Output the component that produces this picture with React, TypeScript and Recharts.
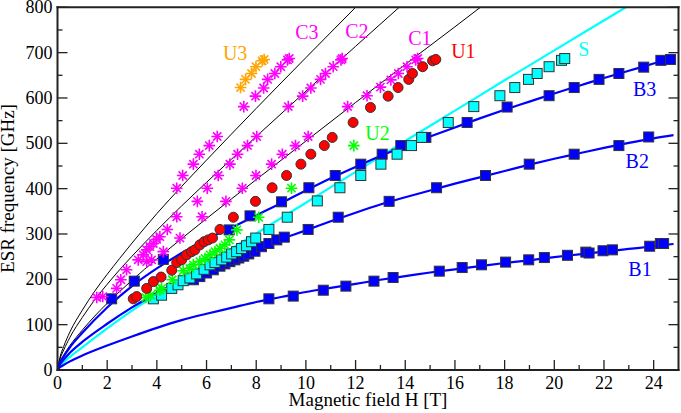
import React from "react";
import { ComposedChart, Line, Scatter, XAxis, YAxis, ReferenceDot } from "recharts";

// axis ticks
const xMajorTicks = [0, 2, 4, 6, 8, 10, 12, 14, 16, 18, 20, 22, 24];
const xMinorTicks = [1, 3, 5, 7, 9, 11, 13, 15, 17, 19, 21, 23];
const yMajorTicks = [0, 100, 200, 300, 400, 500, 600, 700, 800];
const yMinorTicks = [50, 150, 250, 350, 450, 550, 650, 750];

// theory curves, [H (T), f (GHz)]
const c3Curve = [[0, 0], [0.1, 28], [0.25, 52], [0.5, 84], [1, 132], [1.5, 174], [2, 211], [2.5, 246], [3, 280], [3.5, 313], [4, 345], [5, 405], [6, 463], [8, 577], [10, 689], [12, 800], [12.5, 828]];
const c2Curve = [[0, 0], [0.1, 24], [0.25, 44], [0.5, 72], [1, 116], [1.5, 155], [2, 189], [2.5, 221], [3, 251], [3.5, 280], [4, 308], [5, 362], [6, 414], [8, 515], [10, 615], [12, 714], [14, 812]];
const c1Curve = [[0, 0], [0.1, 18], [0.25, 33], [0.5, 54], [1, 88], [1.5, 119], [2, 147], [2.5, 173], [3, 198], [3.5, 222], [4, 245], [5, 290], [6, 334], [8, 420], [10, 505], [12, 590], [14, 674], [16, 757], [17.5, 820]];
const sCurve = [[0, 0], [0.1, 8], [0.25, 17], [0.5, 29], [1, 50], [2, 92], [3, 131], [4, 167], [5, 201], [6, 235], [7, 268], [8, 301], [10, 369], [12, 437], [14, 505], [16, 572], [18, 639], [20, 705], [22, 771], [23, 804]];
const b3Curve = [[0, 0], [0.1, 16], [0.25, 30], [0.5, 50], [1, 82], [2, 138], [3, 185], [4, 224], [5, 258], [6, 288], [7, 314], [8, 341], [9, 368], [10, 396], [11, 423], [12, 448], [13, 472], [14, 494], [15, 515], [16, 535], [17, 555], [18, 574], [19, 592], [20, 610], [21, 627], [22, 644], [23, 660], [24, 676], [24.8, 689]];
const b2Curve = [[0, 0], [0.1, 12], [0.25, 23], [0.5, 38], [1, 62], [2, 102], [3, 138], [4, 170], [5, 199], [6, 226], [7, 250], [8, 269], [9, 289], [10, 308], [11, 328], [12, 347], [13, 365], [14, 381], [15, 396], [16, 411], [17, 425], [18, 439], [19, 453], [20, 466], [21, 478], [22, 490], [23, 501], [24, 511], [24.8, 518]];
const b1Curve = [[0, 0], [0.1, 6], [0.25, 11], [0.5, 19], [1, 32], [2, 54], [3, 74], [4, 93], [5, 110], [6, 124], [7, 137], [8, 150], [9, 161], [10, 172], [11, 181], [12, 190], [13, 199], [14, 207], [15, 215], [16, 222], [17, 229], [18, 236], [19, 242], [20, 249], [21, 255], [22, 261], [23, 267], [24, 273], [24.8, 278]];

// measured resonances
const cStars = [
  [1.58, 160], [1.82, 162], [2.38, 180], [2.55, 199], [2.78, 221], [3.25, 243], [3.45, 254], [3.59, 265], [3.72, 272],
  [3.86, 279], [3.99, 288], [4.12, 294], [3.59, 239], [3.79, 243], [4.26, 261], [4.42, 310], [4.93, 291],
  [4.8, 338], [5.82, 338], [5.63, 372], [6.78, 372], [4.8, 401], [6.03, 401], [7.44, 401],
  [5.04, 429], [6.47, 429], [7.99, 429], [5.47, 454], [6.94, 454], [8.62, 454], [5.71, 476], [7.25, 476], [9.05, 476],
  [6.11, 495], [7.65, 495], [9.58, 495], [6.43, 515], [8.02, 515], [10.09, 515],
  [7.5, 581], [9.29, 581], [11.68, 581], [7.97, 604], [9.87, 604], [12.46, 605], [8.3, 622], [10.2, 622], [13.0, 624],
  [8.46, 641], [10.59, 641], [13.42, 640], [8.75, 654], [10.79, 654], [13.72, 654], [8.99, 669], [11.1, 669], [14.07, 669],
  [9.26, 684], [11.41, 684], [14.42, 684], [9.33, 687], [11.46, 687], [14.5, 687],
];
const u3Stars = [[7.37, 623], [7.57, 641], [7.81, 654], [7.99, 669], [8.24, 682], [8.32, 685]];
const u2Stars = [
  [3.55, 160], [3.75, 165], [4.12, 176], [4.19, 180], [4.62, 199], [5.06, 219], [5.33, 224], [5.47, 232], [5.73, 239],
  [5.94, 246], [6.14, 254], [6.34, 261], [6.54, 268], [6.74, 276], [6.92, 287], [7.22, 309], [8.1, 337], [9.42, 401], [11.93, 495],
];
const u1Circles = [
  [3.05, 157], [3.19, 162], [3.59, 180], [3.86, 195], [4.17, 205], [4.6, 220], [4.8, 237], [5.0, 243], [5.2, 254],
  [5.4, 261], [5.53, 265], [5.73, 276], [5.9, 283], [6.07, 287], [6.24, 291], [6.54, 310], [7.08, 337], [7.97, 372],
  [8.64, 402], [9.22, 429], [9.8, 454], [10.2, 476], [10.74, 495], [11.06, 513], [11.9, 546], [12.6, 579], [13.31, 604],
  [13.71, 623], [14.14, 641], [14.29, 654], [14.7, 669], [15.1, 682], [15.23, 685],
];
const sSquares = [
  [3.86, 157], [4.19, 165], [4.6, 180], [4.85, 188], [5.06, 197], [5.33, 203], [5.6, 212], [5.9, 222], [6.14, 232],
  [6.34, 237], [6.61, 243], [6.81, 249], [7.01, 256], [7.21, 261], [7.41, 268], [7.61, 274], [7.81, 283], [7.98, 291],
  [8.51, 310], [9.25, 337], [10.46, 373], [11.37, 402], [12.21, 429], [13.02, 454], [13.67, 476], [14.25, 495],
  [14.66, 513], [15.73, 546], [16.76, 581], [17.81, 605], [18.41, 623], [18.96, 641], [19.31, 654], [19.79, 669],
  [20.29, 683], [20.42, 687],
];
const b3Squares = [
  [2.18, 157], [3.09, 196], [4.26, 244], [6.91, 309], [7.75, 340], [9.02, 371], [10.12, 402], [11.18, 429], [12.21, 454],
  [13.07, 476], [13.82, 495], [14.83, 513], [16.49, 546], [18.1, 580], [19.79, 605], [20.8, 623], [21.8, 641],
  [22.6, 654], [23.6, 668], [24.29, 683], [24.68, 685],
];
const b2Squares = [
  [5.47, 199], [5.73, 206], [6.0, 214], [6.27, 221], [6.54, 229], [6.74, 234], [6.94, 239], [7.14, 243], [7.3, 247],
  [7.5, 251], [7.7, 256], [7.95, 262], [8.21, 272], [8.51, 279], [8.83, 287], [9.13, 293], [10.09, 310], [11.3, 337],
  [13.35, 372], [15.26, 402], [17.23, 429], [18.99, 454], [20.8, 476], [22.6, 495], [23.8, 514],
];
const b1Squares = [
  [8.51, 157], [9.49, 163], [10.7, 176], [11.61, 185], [12.74, 196], [13.51, 204], [15.37, 218], [16.29, 226],
  [17.07, 232], [18.04, 238], [18.97, 243], [19.6, 248], [20.53, 253], [21.27, 260], [21.4, 258], [21.96, 263],
  [22.34, 265], [23.84, 273], [24.27, 279], [24.4, 279],
];

const rows = (pts: number[][]) => pts.map(([h, f]) => ({ h, f }));

const FONT = "'Liberation Serif', 'Times New Roman', serif";
const FRAME = "#222";
const xTicks = [...xMajorTicks, ...xMinorTicks].sort((a, b) => a - b);
const yTicks = [...yMajorTicks, ...yMinorTicks].sort((a, b) => a - b);
const frameLine = { stroke: FRAME, strokeWidth: 2, strokeLinecap: "square" as const };

function BottomTick({ x, y, payload }: any) {
  const major = xMajorTicks.includes(payload.value);
  return (
    <g>
      <line x1={x} x2={x} y1={y} y2={y - (major ? 10 : 5)} stroke={FRAME} strokeWidth={1.3} />
      {major && (
        <text x={x} y={y + 18.5} textAnchor="middle" fontSize={18} fontFamily={FONT} fill="#000">
          {payload.value}
        </text>
      )}
    </g>
  );
}

function TopTick({ x, y, payload }: any) {
  const major = xMajorTicks.includes(payload.value);
  return <line x1={x} x2={x} y1={y} y2={y + (major ? 10 : 5)} stroke={FRAME} strokeWidth={1.3} />;
}

function LeftTick({ x, y, payload }: any) {
  const major = yMajorTicks.includes(payload.value);
  return (
    <g>
      <line x1={x} x2={x + (major ? 10 : 5)} y1={y} y2={y} stroke={FRAME} strokeWidth={1.3} />
      {major && (
        <text x={x - 5} y={y + 6} textAnchor="end" fontSize={18} fontFamily={FONT} fill="#000">
          {payload.value}
        </text>
      )}
    </g>
  );
}

function RightTick({ x, y, payload }: any) {
  const major = yMajorTicks.includes(payload.value);
  return <line x1={x} x2={x - (major ? 10 : 5)} y1={y} y2={y} stroke={FRAME} strokeWidth={1.3} />;
}

const square = (fill: string) => (p: any) => (
  <rect x={p.cx - 5} y={p.cy - 5} width={10} height={10} fill={fill} stroke="#333" strokeWidth={1} />
);
const circle = (fill: string) => (p: any) => (
  <circle cx={p.cx} cy={p.cy} r={5} fill={fill} stroke="#333" strokeWidth={1} />
);
const star = (color: string) => (p: any) => {
  const r = 5.8;
  const d = r * 0.7071;
  return (
    <g stroke={color} strokeWidth={1.6}>
      <line x1={p.cx - r} y1={p.cy} x2={p.cx + r} y2={p.cy} />
      <line x1={p.cx} y1={p.cy - r} x2={p.cx} y2={p.cy + r} />
      <line x1={p.cx - d} y1={p.cy - d} x2={p.cx + d} y2={p.cy + d} />
      <line x1={p.cx - d} y1={p.cy + d} x2={p.cx + d} y2={p.cy - d} />
    </g>
  );
};

const tag = (value: string, fill: string) => ({
  value,
  position: "center" as const,
  fill,
  fontSize: 20,
  fontFamily: FONT,
});

export default function App() {
  return (
    <div style={{ position: "absolute", left: 0, top: 0, background: "#fff" }}>
      <ComposedChart width={681} height={413} margin={{ top: 6.3, right: 1.5, bottom: 0, left: 0 }}>
        <XAxis
          dataKey="h"
          type="number"
          domain={[0, 25]}
          allowDataOverflow
          ticks={xTicks}
          interval={0}
          tickSize={0}
          tickMargin={0}
          tickLine={false}
          tick={BottomTick}
          axisLine={frameLine}
          height={43}
          label={() => (
            <text x={368} y={405.5} textAnchor="middle" fontSize={19} fontFamily={FONT} fill="#000">
              Magnetic field H [T]
            </text>
          )}
        />
        <XAxis
          xAxisId="top"
          orientation="top"
          type="number"
          domain={[0, 25]}
          allowDataOverflow
          ticks={xTicks}
          interval={0}
          tickSize={0}
          tickMargin={0}
          tickLine={false}
          tick={TopTick}
          axisLine={frameLine}
          height={1}
        />
        <YAxis
          dataKey="f"
          type="number"
          domain={[0, 800]}
          allowDataOverflow
          ticks={yTicks}
          interval={0}
          tickSize={0}
          tickMargin={0}
          tickLine={false}
          tick={LeftTick}
          axisLine={frameLine}
          width={57.5}
          label={() => (
            <text
              transform="translate(13.8,188.5) rotate(-90)"
              textAnchor="middle"
              fontSize={19}
              fontFamily={FONT}
              fill="#000"
            >
              ESR frequency [GHz]
            </text>
          )}
        />
        <YAxis
          yAxisId="right"
          orientation="right"
          type="number"
          domain={[0, 800]}
          allowDataOverflow
          ticks={yTicks}
          interval={0}
          tickSize={0}
          tickMargin={0}
          tickLine={false}
          tick={RightTick}
          axisLine={frameLine}
          width={1}
        />

        <Line data={rows(c3Curve)} dataKey="f" type="monotone" stroke="#000" strokeWidth={1} dot={false} activeDot={false} isAnimationActive={false} />
        <Line data={rows(c2Curve)} dataKey="f" type="monotone" stroke="#000" strokeWidth={1} dot={false} activeDot={false} isAnimationActive={false} />
        <Line data={rows(c1Curve)} dataKey="f" type="monotone" stroke="#000" strokeWidth={1} dot={false} activeDot={false} isAnimationActive={false} />
        <Line data={rows(sCurve)} dataKey="f" type="monotone" stroke="#00ffff" strokeWidth={2.2} dot={false} activeDot={false} isAnimationActive={false} />
        <Line data={rows(b3Curve)} dataKey="f" type="monotone" stroke="#0000ff" strokeWidth={2.2} dot={false} activeDot={false} isAnimationActive={false} />
        <Line data={rows(b2Curve)} dataKey="f" type="monotone" stroke="#0000ff" strokeWidth={2.2} dot={false} activeDot={false} isAnimationActive={false} />
        <Line data={rows(b1Curve)} dataKey="f" type="monotone" stroke="#0000ff" strokeWidth={2.2} dot={false} activeDot={false} isAnimationActive={false} />

        <Scatter data={rows(b1Squares)} dataKey="f" shape={square("#0000ff")} isAnimationActive={false} />
        <Scatter data={rows(b2Squares)} dataKey="f" shape={square("#0000ff")} isAnimationActive={false} />
        <Scatter data={rows(b3Squares)} dataKey="f" shape={square("#0000ff")} isAnimationActive={false} />
        <Scatter data={rows(sSquares)} dataKey="f" shape={square("#00ffff")} isAnimationActive={false} />
        <Scatter data={rows(cStars)} dataKey="f" shape={star("#ff00ff")} isAnimationActive={false} />
        <Scatter data={rows(u2Stars)} dataKey="f" shape={star("#00ff00")} isAnimationActive={false} />
        <Scatter data={rows(u1Circles)} dataKey="f" shape={circle("#ff0000")} isAnimationActive={false} />
        <Scatter data={rows(u3Stars)} dataKey="f" shape={star("#ffa500")} isAnimationActive={false} />

        <ReferenceDot x={10.04} y={745.5} r={0} fill="none" stroke="none" label={tag("C3", "#ff00ff")} />
        <ReferenceDot x={12.05} y={748.3} r={0} fill="none" stroke="none" label={tag("C2", "#ff00ff")} />
        <ReferenceDot x={14.59} y={733.3} r={0} fill="none" stroke="none" label={tag("C1", "#ff00ff")} />
        <ReferenceDot x={16.34} y={703.6} r={0} fill="none" stroke="none" label={tag("U1", "#ff0000")} />
        <ReferenceDot x={12.88} y={522.7} r={0} fill="none" stroke="none" label={tag("U2", "#00ff00")} />
        <ReferenceDot x={7.15} y={700.3} r={0} fill="none" stroke="none" label={tag("U3", "#ffa500")} />
        <ReferenceDot x={21.19} y={707.5} r={0} fill="none" stroke="none" label={tag("S", "#00ffff")} />
        <ReferenceDot x={23.64} y={619.3} r={0} fill="none" stroke="none" label={tag("B3", "#0000ff")} />
        <ReferenceDot x={23.34} y={461.4} r={0} fill="none" stroke="none" label={tag("B2", "#0000ff")} />
        <ReferenceDot x={23.45} y={223.9} r={0} fill="none" stroke="none" label={tag("B1", "#0000ff")} />
      </ComposedChart>
    </div>
  );
}
